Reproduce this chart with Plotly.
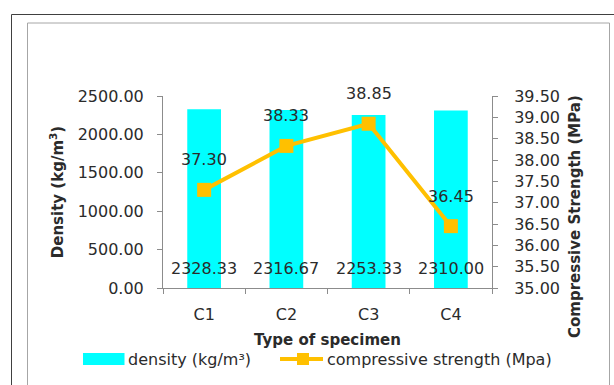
import plotly.graph_objects as go

# Specimen data
specimens = ["C1", "C2", "C3", "C4"]
density = [2328.33, 2316.67, 2253.33, 2310.00]          # kg/m³
strength = [37.30, 38.33, 38.85, 36.45]                  # MPa

W, H = 614, 385
PL, PR, PT, PB = 163, 492, 96, 288   # plot area in pixels

BAR_COLOR = "#00FFFF"
LINE_COLOR = "#FFC000"
AXIS_COLOR = "#8c8c8c"
TEXT_COLOR = "#2b2b2b"
FONT = "DejaVu Sans"


def fx(px):
    return (px - PL) / (PR - PL)


def fy(py):
    return (PB - py) / (PB - PT)


fig = go.Figure()

fig.add_trace(go.Bar(
    x=specimens, y=density, name="density (kg/m³)",
    marker=dict(color=BAR_COLOR, line=dict(width=0)),
    showlegend=False,
))

fig.add_trace(go.Scatter(
    x=specimens, y=strength, name="compressive strength (Mpa)",
    mode="lines+markers", yaxis="y2",
    line=dict(color=LINE_COLOR, width=4),
    marker=dict(symbol="square", size=14, color=LINE_COLOR),
    showlegend=False,
))

annotations = []
# density values near the base of each bar
for s, d in zip(specimens, density):
    annotations.append(dict(
        x=s, y=0, xref="x", yref="y", text=f"{d:.2f}", showarrow=False,
        yanchor="middle", yshift=20, font=dict(family=FONT, size=16, color=TEXT_COLOR),
    ))
# strength values above each point
for s, v in zip(specimens, strength):
    annotations.append(dict(
        x=s, y=v, xref="x", yref="y2", text=f"{v:.2f}", showarrow=False,
        yanchor="middle", yshift=30, font=dict(family=FONT, size=16, color=TEXT_COLOR),
    ))

title_font = dict(family=FONT, size=15, color=TEXT_COLOR, weight="bold")

# secondary axis title
annotations.append(dict(
    x=fx(575), y=fy(217), xref="paper", yref="paper", xanchor="center", yanchor="middle",
    text="Compressive Strength (MPa)", textangle=-90, showarrow=False, font=title_font,
))

# legend entries
annotations.append(dict(
    x=fx(126), y=fy(359), xref="paper", yref="paper", xanchor="left", yanchor="middle",
    text="density (kg/m³)", showarrow=False,
    font=dict(family=FONT, size=16, color=TEXT_COLOR),
))
annotations.append(dict(
    x=fx(325), y=fy(359), xref="paper", yref="paper", xanchor="left", yanchor="middle",
    text="compressive strength (Mpa)", showarrow=False,
    font=dict(family=FONT, size=16, color=TEXT_COLOR),
))

shapes = [
    # outer frame
    dict(type="rect", xref="paper", yref="paper", x0=fx(11.5), x1=fx(640), y0=fy(14.5), y1=fy(420),
         line=dict(color="#404040", width=1), fillcolor="rgba(0,0,0,0)", layer="below"),
    # inner chart frame
    dict(type="rect", xref="paper", yref="paper", x0=fx(27.5), x1=fx(609.5), y0=fy(23), y1=fy(420),
         line=dict(color="#a6a6a6", width=1), fillcolor="rgba(0,0,0,0)", layer="below"),
    # legend symbols
    dict(type="rect", xref="paper", yref="paper", x0=fx(83), x1=fx(124.5), y0=fy(353), y1=fy(365),
         line=dict(width=0), fillcolor=BAR_COLOR),
    dict(type="line", xref="paper", yref="paper", x0=fx(280), x1=fx(323), y0=fy(359), y1=fy(359),
         line=dict(color=LINE_COLOR, width=4)),
    dict(type="rect", xref="paper", yref="paper", x0=fx(297), x1=fx(309), y0=fy(353), y1=fy(365),
         line=dict(width=0), fillcolor=LINE_COLOR),
]

tick_font = dict(family=FONT, size=16, color=TEXT_COLOR)

fig.update_layout(
    width=W, height=H,
    margin=dict(l=PL, r=W - PR, t=PT, b=H - PB, autoexpand=False),
    paper_bgcolor="white", plot_bgcolor="white",
    bargap=0.59,
    font=dict(family=FONT, color=TEXT_COLOR),
    xaxis=dict(
        type="category", showgrid=False, showline=True, linecolor=AXIS_COLOR, linewidth=1,
        ticks="outside", tickson="boundaries", ticklen=5, tickcolor=AXIS_COLOR,
        tickfont=tick_font, ticklabelstandoff=12,
        title=dict(text="Type of specimen", font=title_font, standoff=11),
    ),
    yaxis=dict(
        range=[0, 2500], dtick=500, tickformat=".2f", showgrid=False, zeroline=False,
        showline=True, linecolor=AXIS_COLOR, linewidth=1,
        ticks="outside", ticklen=5, tickcolor=AXIS_COLOR, tickfont=tick_font,
        ticklabelstandoff=10,
        title=dict(text="Density (kg/m<sup>3</sup>)", font=title_font, standoff=10),
    ),
    yaxis2=dict(
        range=[35, 39.5], dtick=0.5, tickformat=".2f", showgrid=False, zeroline=False,
        overlaying="y", side="right",
        showline=True, linecolor=AXIS_COLOR, linewidth=1,
        ticks="outside", ticklen=5, tickcolor=AXIS_COLOR, tickfont=tick_font,
        ticklabelstandoff=13,
    ),
    annotations=annotations,
    shapes=shapes,
)

fig.write_html("out.html")
